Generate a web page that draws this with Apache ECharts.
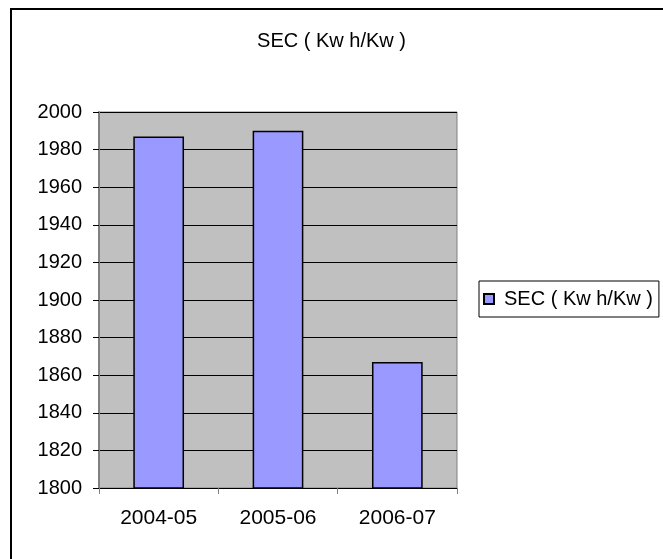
<!DOCTYPE html>
<html>
<head>
<meta charset="utf-8">
<script src="https://cdn.jsdelivr.net/npm/echarts@6/dist/echarts.min.js"></script>
<style>
html,body{margin:0;padding:0;background:#fff;}
#c{width:663px;height:559px;}
</style>
</head>
<body>
<div id="c"></div>
<script>
const categories = ['2004-05', '2005-06', '2006-07'];
const secValues = [1987, 1990, 1867];
const seriesName = 'SEC ( Kw h/Kw )';
const titleText = 'SEC ( Kw h/Kw )';
const yMin = 1800, yMax = 2000, yStep = 20;

const FONT = "'Liberation Sans', Arial, sans-serif";
const chart = echarts.init(document.getElementById('c'));
chart.setOption({
  animation: false,
  backgroundColor: '#fff',
  title: {
    text: titleText,
    left: 'center',
    top: 26,
    textStyle: { fontFamily: FONT, fontSize: 20, fontWeight: 'normal', color: '#000' }
  },
  legend: {
    left: 479,
    top: 281,
    padding: [8, 6, 8, 4],
    borderColor: '#000',
    borderWidth: 1,
    backgroundColor: '#fff',
    itemWidth: 20,
    itemHeight: 10,
    icon: 'path://M0,0H10V10H0Z',
    textStyle: { fontFamily: FONT, fontSize: 20, color: '#000' },
    data: [seriesName]
  },
  grid: {
    left: 99, right: 206, top: 112, height: 376,
    show: true,
    backgroundColor: '#C0C0C0',
    borderColor: '#808080',
    borderWidth: 1
  },
  xAxis: {
    type: 'category',
    data: categories,
    axisLine: { lineStyle: { color: '#000', width: 1 } },
    axisTick: { show: true, length: 6, lineStyle: { color: '#808080' } },
    axisLabel: { fontFamily: FONT, fontSize: 21, color: '#000', margin: 20 }
  },
  yAxis: {
    type: 'value',
    min: yMin, max: yMax, interval: yStep,
    axisLine: { show: true, lineStyle: { color: '#808080', width: 2 } },
    axisTick: { show: true, length: 6, lineStyle: { color: '#000' } },
    axisLabel: { fontFamily: FONT, fontSize: 20, color: '#000', margin: 17, formatter: v => String(v) },
    splitLine: { show: true, lineStyle: { color: '#000', width: 1 } }
  },
  series: [{
    name: seriesName,
    type: 'bar',
    data: secValues,
    barWidth: '42.5%',
    itemStyle: { color: '#9999FF', borderColor: '#000', borderWidth: 1.5 }
  }],
  graphic: [{
    type: 'rect',
    shape: { x: 11, y: 9, width: 800, height: 800 },
    style: { fill: 'none', stroke: '#000', lineWidth: 2 },
    silent: true
  }]
});
</script>
</body>
</html>
